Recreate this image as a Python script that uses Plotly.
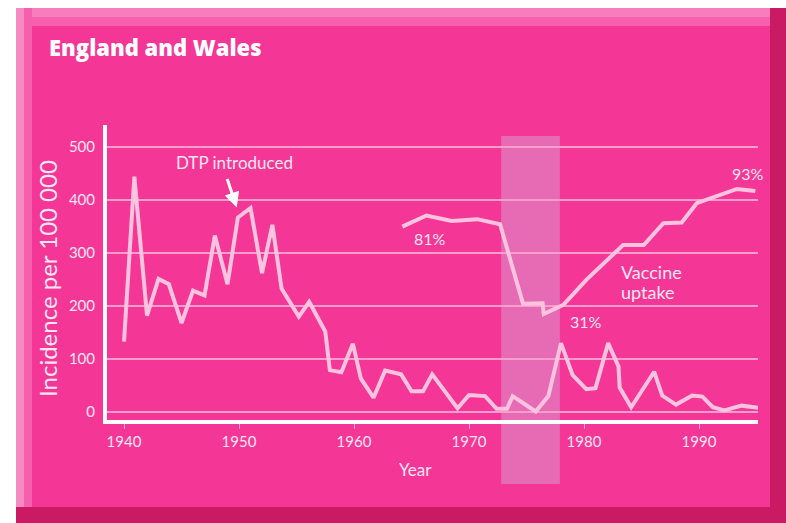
import plotly.graph_objects as go

# ---- data ----
inc_years = [1940.0, 1940.9, 1942.0, 1943.0, 1943.9, 1945.0, 1946.0, 1947.0, 1947.9, 1949.0,
             1949.9, 1951.0, 1952.0, 1952.9, 1953.7, 1955.2, 1956.1, 1957.5, 1957.9, 1958.9,
             1959.9, 1960.6, 1961.7, 1962.7, 1964.1, 1965.0, 1966.0, 1966.8, 1969.0, 1970.0,
             1971.4, 1972.4, 1973.3, 1973.8, 1975.8, 1976.9, 1978.0, 1979.0, 1980.2, 1981.0,
             1982.1, 1983.0, 1983.1, 1984.1, 1986.1, 1986.8, 1988.0, 1989.4, 1990.3, 1991.2,
             1992.2, 1993.7, 1995.2]
incidence = [133, 444, 182, 251, 241, 168, 229, 220, 333, 241,
             367, 385, 262, 353, 233, 180, 208, 152, 79, 75,
             129, 63, 27, 78, 71, 39, 39, 71, 7, 32,
             30, 6, 6, 30, 1, 30, 130, 70, 43, 45,
             130, 86, 46, 9, 76, 31, 14, 31, 29, 9,
             3, 12, 8]

vac_years = [1964.2, 1966.3, 1968.5, 1970.7, 1972.7, 1974.7, 1976.4, 1976.5, 1978.2,
             1980.2, 1983.4, 1985.2, 1986.9, 1988.5, 1989.8, 1993.3, 1994.9]
vac_uptake = [74.3, 79.8, 77.1, 78.0, 75.5, 36.0, 36.3, 31.0, 35.5,
              47.9, 65.2, 65.2, 76.0, 76.3, 85.9, 93.0, 92.0]

x_ticks = [1940, 1950, 1960, 1970, 1980, 1990]
y_ticks = [0, 100, 200, 300, 400, 500]
band_years = [1972.8, 1977.9]

# ---- styling ----
PINK = "#F43797"
LINE = "#FFC3E0"
TXT = "#FDE6F1"
FONT = "Lato"
W, H = 786, 523
L, R, T, B = 107, 28, 125, 103
PW, PH = W - L - R, H - T - B


def px(x):
    return (x - L) / PW


def py(y):
    return (H - B - y) / PH


fig = go.Figure()
fig.add_trace(go.Scatter(x=inc_years, y=incidence, mode="lines",
                         line=dict(color=LINE, width=4), hoverinfo="skip"))
fig.add_trace(go.Scatter(x=vac_years, y=vac_uptake, mode="lines", yaxis="y2",
                         line=dict(color=LINE, width=4), hoverinfo="skip"))

shapes = [
    # panel
    dict(type="rect", xref="paper", yref="paper", x0=px(16), x1=px(786), y0=py(8), y1=py(523),
         fillcolor=PINK, line_width=0, layer="below"),
    dict(type="rect", xref="paper", yref="paper", x0=px(16), x1=px(770), y0=py(8), y1=py(17),
         fillcolor="#F87DBC", line_width=0, layer="below"),
    dict(type="rect", xref="paper", yref="paper", x0=px(16), x1=px(770), y0=py(17), y1=py(26),
         fillcolor="#F660AC", line_width=0, layer="below"),
    dict(type="rect", xref="paper", yref="paper", x0=px(16), x1=px(24), y0=py(8), y1=py(507),
         fillcolor="#F68BC2", line_width=0, layer="below"),
    dict(type="rect", xref="paper", yref="paper", x0=px(24), x1=px(32), y0=py(8), y1=py(507),
         fillcolor="#F55FAB", line_width=0, layer="below"),
    dict(type="rect", xref="paper", yref="paper", x0=px(770), x1=px(786), y0=py(8), y1=py(523),
         fillcolor="#C91A63", line_width=0, layer="below"),
    dict(type="rect", xref="paper", yref="paper", x0=px(16), x1=px(786), y0=py(507), y1=py(523),
         fillcolor="#C91A63", line_width=0, layer="below"),
    # highlighted period
    dict(type="rect", xref="x", yref="paper", x0=band_years[0], x1=band_years[1],
         y0=py(484), y1=py(136), fillcolor="rgba(220,149,206,0.55)", line_width=0, layer="below"),
]

annotations = [
    dict(text="England and Wales", xref="paper", yref="paper", x=px(47), y=py(47),
         xanchor="left", yanchor="middle", showarrow=False,
         font=dict(family="Open Sans", size=22, color="#FFFFFF", weight=800)),
    dict(text="Incidence per 100 000", xref="paper", yref="paper", x=px(47), y=py(279),
         textangle=-90, showarrow=False, xanchor="center", yanchor="middle",
         font=dict(family=FONT, size=24, color=TXT)),
    dict(text="Year", xref="paper", yref="paper", x=px(415), y=py(469), showarrow=False,
         xanchor="center", yanchor="middle",
         font=dict(family=FONT, size=17, color=TXT)),
    dict(text="DTP introduced", x=1949.57, y=470, showarrow=False,
         font=dict(family=FONT, size=17, color=TXT)),
    dict(text="", x=1949.8, y=386, ax=-10, ay=-30, showarrow=True, arrowhead=2,
         arrowsize=1, arrowwidth=3, arrowcolor="#FFFFFF"),
    dict(text="81%", x=1966.6, y=328, showarrow=False,
         font=dict(family=FONT, size=16, color=TXT)),
    dict(text="93%", x=1994.26, y=450, showarrow=False,
         font=dict(family=FONT, size=16, color=TXT)),
    dict(text="31%", x=1980.17, y=170, showarrow=False,
         font=dict(family=FONT, size=16, color=TXT)),
    dict(text="Vaccine", x=1983.04, y=265, xanchor="left", showarrow=False,
         font=dict(family=FONT, size=18, color=TXT)),
    dict(text="uptake", x=1983.04, y=227, xanchor="left", showarrow=False,
         font=dict(family=FONT, size=18, color=TXT)),
]

fig.update_layout(
    width=W, height=H,
    margin=dict(l=L, r=R, t=T, b=B),
    paper_bgcolor="#FFFFFF",
    plot_bgcolor="rgba(0,0,0,0)",
    showlegend=False,
    shapes=shapes,
    annotations=annotations,
    xaxis=dict(range=[1938.52, 1995.13], tickvals=x_ticks, showgrid=False, zeroline=False,
               showline=True, linecolor="#FFFFFF", linewidth=4,
               ticks="outside", ticklen=5, tickcolor="#F9A8D0", tickwidth=1,
               tickfont=dict(family=FONT, size=15, color=TXT)),
    yaxis=dict(range=[-15.1, 541.5], tickvals=y_ticks, showgrid=True,
               gridcolor="#F99DCC", gridwidth=1.5, zeroline=False,
               showline=True, linecolor="#FFFFFF", linewidth=4,
               ticks="outside", ticklen=5, tickcolor="rgba(0,0,0,0)",
               tickfont=dict(family=FONT, size=15, color=TXT)),
    yaxis2=dict(range=[-21.6, 124.7], overlaying="y", side="right", showgrid=False,
                zeroline=False, showline=False, showticklabels=False, ticks=""),
)

fig.write_html("out.html", config={"displayModeBar": False},
               post_script="document.body.style.margin='0';")
